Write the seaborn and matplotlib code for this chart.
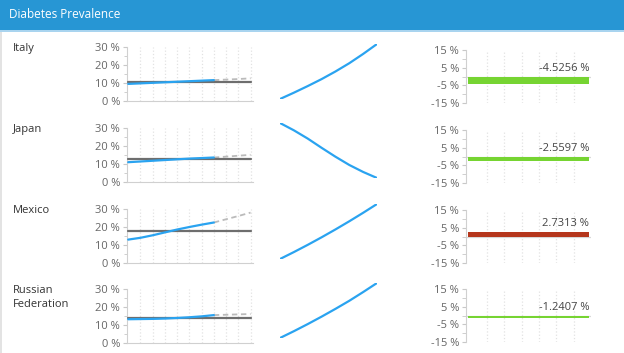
import matplotlib
matplotlib.use("Agg")
import matplotlib.pyplot as plt
from matplotlib.patches import Rectangle
from matplotlib.ticker import FuncFormatter, MultipleLocator
import seaborn as sns

# Data
countries = ["Italy", "Japan", "Mexico", "Russian\nFederation"]
years = [0, 1, 2, 3, 4, 5, 6, 7]
proj_years = [7, 8, 9, 10]

actual = [
    [9.5, 9.8, 10.1, 10.4, 10.7, 11.0, 11.3, 11.6],
    [11.0, 11.4, 11.8, 12.2, 12.6, 13.0, 13.3, 13.6],
    [13.0, 14.0, 15.4, 17.0, 18.6, 20.0, 21.3, 22.5],
    [13.2, 13.3, 13.4, 13.6, 13.9, 14.3, 14.8, 15.5],
]
projection = [
    [11.6, 11.9, 12.2, 12.6],
    [13.6, 14.1, 14.6, 15.1],
    [22.5, 24.3, 26.1, 28.0],
    [15.5, 15.7, 15.9, 16.1],
]
averages = [10.6, 12.8, 18.0, 14.0]

trend = [
    [0, 1.9, 3.9, 6.0, 8.3, 10.8, 13.6, 16.6],
    [0, -2.3, -4.9, -7.8, -10.6, -13.2, -15.4, -17.3],
    [0, 2.2, 4.5, 6.9, 9.4, 12.0, 14.7, 17.5],
    [0, 2.1, 4.3, 6.6, 9.0, 11.5, 14.2, 17.0],
]

changes = [-4.5256, -2.5597, 2.7313, -1.2407]

W, H = 624, 353
BLUE = "#2aa3f0"
GREEN = "#76d432"
RED = "#b5361c"
TICK = "#666666"

sns.set_style("white")
plt.rcParams["font.family"] = ["Open Sans", "DejaVu Sans"]

fig = plt.figure(figsize=(W / 100, H / 100), dpi=100)


def px_axes(x, y, w, h):
    return fig.add_axes([x / W, 1 - (y + h) / H, w / W, h / H])


pct = FuncFormatter(lambda v, p: f"{v:.0f} %")

# header bar
fig.add_artist(Rectangle((0, 1 - 30 / H), 1, 30 / H, transform=fig.transFigure,
                         facecolor="#2796d4", edgecolor="none"))
fig.add_artist(Rectangle((0, 1 - 32 / H), 1, 2 / H, transform=fig.transFigure,
                         facecolor="#a9d4ef", edgecolor="none"))
fig.add_artist(Rectangle((0, 0), 2 / W, 1 - 32 / H, transform=fig.transFigure,
                         facecolor="#e3e3e3", edgecolor="none"))
fig.text(9 / W, 1 - 14 / H, "Diabetes Prevalence", color="white", fontsize=8.5,
         va="center", ha="left")

left_tops = [47, 128, 209, 289]
right_tops = [50, 130, 210, 289]
mid_tops = [44, 123, 204, 283]

for i, name in enumerate(countries):
    # row label
    fig.text(13 / W, 1 - (left_tops[i] - 4) / H, name, fontsize=8, color="#333333",
             va="top", ha="left", linespacing=1.35)

    # left: history + projection + average
    ax = px_axes(127, left_tops[i], 126, 54)
    sns.lineplot(x=years, y=actual[i], ax=ax, color=BLUE, lw=1.6, zorder=4)
    sns.lineplot(x=proj_years, y=projection[i], ax=ax, color="#bbbbbb", lw=1.3,
                 linestyle=(0, (3, 2)), zorder=3)
    sns.lineplot(x=[0, 10], y=[averages[i], averages[i]], ax=ax, color="#6e6e6e",
                 lw=1.6, zorder=3)
    ax.set_xlim(-0.1, 10.2)
    ax.set_ylim(0, 30)
    ax.yaxis.set_major_locator(MultipleLocator(10))
    ax.yaxis.set_minor_locator(MultipleLocator(5))
    ax.yaxis.set_major_formatter(pct)
    ax.set_xticks(range(1, 11))
    ax.set_xticklabels([])
    ax.set_axisbelow(True)
    ax.grid(axis="x", color="#e2e2e2", linestyle=":", lw=0.9)
    for s in ["top", "right"]:
        ax.spines[s].set_visible(False)
    for s in ["left", "bottom"]:
        ax.spines[s].set_color("#d0d0d0")
    ax.tick_params(axis="y", which="both", left=True, length=3, color="#c8c8c8",
                   labelsize=8, labelcolor=TICK, pad=2)
    ax.tick_params(axis="y", which="minor", length=2)
    ax.tick_params(axis="x", bottom=False, length=0)

    # middle: sparkline
    mx = px_axes(280, mid_tops[i], 97, 55)
    sns.lineplot(x=years, y=trend[i], ax=mx, color=BLUE, lw=1.6)
    mx.set_xlim(0, 7)
    mx.set_ylim(min(trend[i]), max(trend[i]))
    mx.axis("off")

    # right: change bar
    rx = px_axes(466, right_tops[i], 125, 53)
    rx.set_axisbelow(True)
    color = RED if changes[i] > 0 else GREEN
    rx.axhline(0, color="#d8d8d8", lw=0.9, zorder=1)
    rx.bar(-0.1, changes[i], width=7.0, align="edge", color=color, zorder=3,
           linewidth=0)
    rx.set_xlim(-0.2, 7)
    rx.set_ylim(-15, 15)
    rx.set_yticks([-15, -5, 5, 15])
    rx.yaxis.set_minor_locator(MultipleLocator(5))
    rx.yaxis.set_major_formatter(pct)
    rx.set_xticks(range(1, 7))
    rx.set_xticklabels([])
    rx.grid(axis="x", color="#e2e2e2", linestyle=":", lw=0.9, zorder=0)
    for s in ["top", "right", "bottom"]:
        rx.spines[s].set_visible(False)
    rx.spines["left"].set_color("#d0d0d0")
    rx.tick_params(axis="y", which="both", left=True, length=3, color="#c8c8c8",
                   labelsize=8, labelcolor=TICK, pad=2)
    rx.tick_params(axis="x", bottom=False, length=0)
    rx.text(6.9, max(changes[i], 0) + 1.5, f"{changes[i]:.4f} %", ha="right",
            va="bottom", fontsize=8, color="#444444", zorder=5)

fig.savefig("out.png", dpi=100)
